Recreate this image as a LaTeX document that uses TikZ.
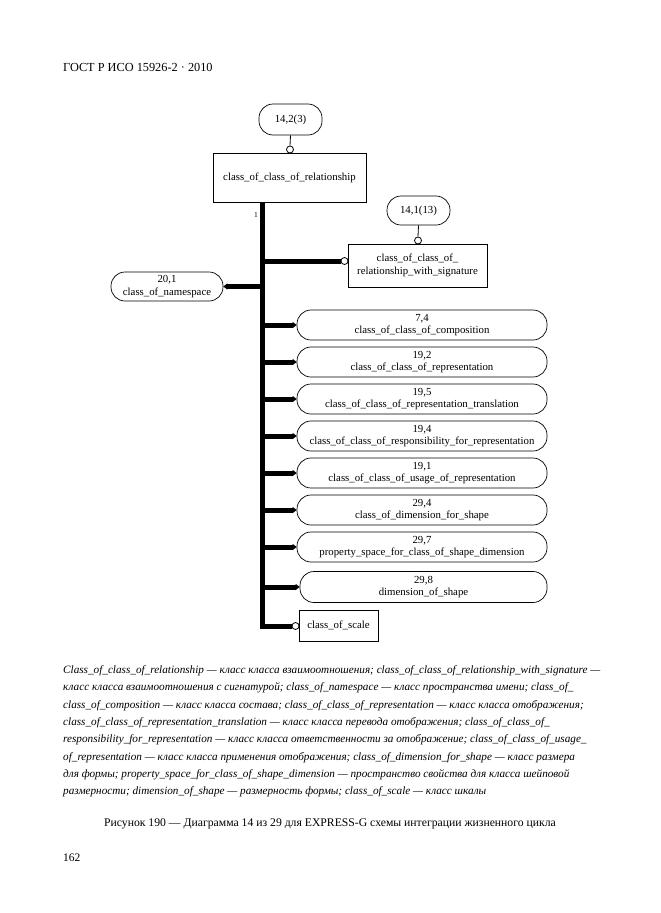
\documentclass[tikz,border=0pt]{standalone}
\usepackage{fontspec}
\setmainfont{Liberation Serif}
\usetikzlibrary{arrows.meta}
\tikzset{
  thin line/.style={line width=0.8pt},
  oval/.style={draw, line width=0.7pt, rounded corners=14pt, align=center, inner sep=0pt, font=\fontsize{10.8}{12.5}\selectfont},
  ebox/.style={draw, line width=0.8pt, align=center, inner sep=0pt, font=\fontsize{10.8}{12.5}\selectfont},
  branch/.style={line width=5pt, -{Triangle[length=4pt,width=6pt]}},
  trunk/.style={line width=5pt, line join=miter},
  ocirc/.style={circle, draw, fill=white, line width=0.8pt, minimum size=7pt, inner sep=0pt},
  legend/.style={anchor=base west, inner sep=0pt, font=\fontsize{11.2}{12}\selectfont\itshape},
}
\begin{document}
\begin{tikzpicture}[x=1pt,y=-1pt]
\useasboundingbox[fill=white] (0,0) rectangle (661,913);

\node[anchor=base west, inner sep=0pt, font=\fontsize{12.3}{14}\selectfont] (hdr) at (63,71) {ГОСТ Р ИСО 15926-2 · 2010};

% top part
\node[oval, minimum width=63pt, minimum height=31pt] (n142) at (290.5,119.5) {14,2(3)};
\node[ebox, minimum width=153pt, minimum height=49pt] (rel) at (289.5,177.5) {class\_of\_class\_of\_relationship};
\node[ocirc] (c1) at (290,149.5) {};
\draw[thin line] (n142.south) -- (c1.north);

\node[oval, minimum width=63pt, minimum height=29pt] (n141) at (418.5,210.5) {14,1(13)};
\node[ebox, minimum width=139pt, minimum height=43pt] (sig) at (417.5,265.5) {class\_of\_class\_of\_\\relationship\_with\_signature};
\node[ocirc] (c2) at (418,240.5) {};
\draw[thin line] (n141.south) -- (c2.north);

\node[oval, minimum width=112pt, minimum height=29pt] (ns) at (167,286.5) {20,1\\class\_of\_namespace};

% right ovals
\node[oval, minimum width=250pt, minimum height=30pt] (o1) at (422,325) {7,4\\class\_of\_class\_of\_composition};
\node[oval, minimum width=250pt, minimum height=30pt] (o2) at (422,362) {19,2\\class\_of\_class\_of\_representation};
\node[oval, minimum width=250pt, minimum height=30pt] (o3) at (422,399) {19,5\\class\_of\_class\_of\_representation\_translation};
\node[oval, minimum width=250pt, minimum height=30pt] (o4) at (422,436) {19,4\\class\_of\_class\_of\_responsibility\_for\_representation};
\node[oval, minimum width=250pt, minimum height=30pt] (o5) at (422,473) {19,1\\class\_of\_class\_of\_usage\_of\_representation};
\node[oval, minimum width=250pt, minimum height=30pt] (o6) at (422,510) {29,4\\class\_of\_dimension\_for\_shape};
\node[oval, minimum width=250pt, minimum height=30pt] (o7) at (422,547) {29,7\\property\_space\_for\_class\_of\_shape\_dimension};
\node[oval, minimum width=247pt, minimum height=31pt] (o8) at (423.5,587) {29,8\\dimension\_of\_shape};
\node[ebox, minimum width=79pt, minimum height=31pt] (scale) at (338.5,625.5) {class\_of\_scale};

% trunk
\coordinate (t0) at (262,202);
\coordinate (t1) at (262,626);
\node[ocirc] (c3) at (344.5,261) {};
\node[ocirc] (c4) at (295.5,626) {};
\draw[trunk] (t0) -- (t1) -- (c4.west);
\node[font=\fontsize{7.5}{8}\selectfont, inner sep=0pt] (one) at (256,215) {1};

\draw[line width=5pt] (t0 |- c3) -- (c3.west);
\draw[branch] (t0 |- ns.east) -- (ns.east);
\foreach \o in {o1,o2,o3,o4,o5,o6,o7,o8}{
  \draw[branch] (t0 |- \o.west) -- (\o.west);
}

% legend
\node[legend] (l1) at (63,673) {Class\_of\_class\_of\_relationship — класс класса взаимоотношения; class\_of\_class\_of\_relationship\_with\_signature —};
\node[legend] (l2) at (63,690) {класс класса взаимоотношения с сигнатурой; class\_of\_namespace — класс пространства имени; class\_of\_};
\node[legend] (l3) at (63,708) {class\_of\_composition — класс класса состава; class\_of\_class\_of\_representation — класс класса отображения;};
\node[legend] (l4) at (63,725) {class\_of\_class\_of\_representation\_translation — класс класса перевода отображения; class\_of\_class\_of\_};
\node[legend] (l5) at (63,742) {responsibility\_for\_representation — класс класса ответственности за отображение; class\_of\_class\_of\_usage\_};
\node[legend] (l6) at (63,760) {of\_representation — класс класса применения отображения; class\_of\_dimension\_for\_shape — класс размера};
\node[legend] (l7) at (63,777) {для формы; property\_space\_for\_class\_of\_shape\_dimension — пространство свойства для класса шейповой};
\node[legend] (l8) at (63,794) {размерности; dimension\_of\_shape — размерность формы; class\_of\_scale — класс шкалы};

\node[anchor=base, inner sep=0pt, font=\fontsize{11.7}{13}\selectfont] (cap) at (330,826) {Рисунок 190 — Диаграмма 14 из 29 для EXPRESS-G схемы интеграции жизненного цикла};
\node[anchor=base west, inner sep=0pt, font=\fontsize{11.5}{12}\selectfont] (pg) at (63,861) {162};
\end{tikzpicture}
\end{document}
